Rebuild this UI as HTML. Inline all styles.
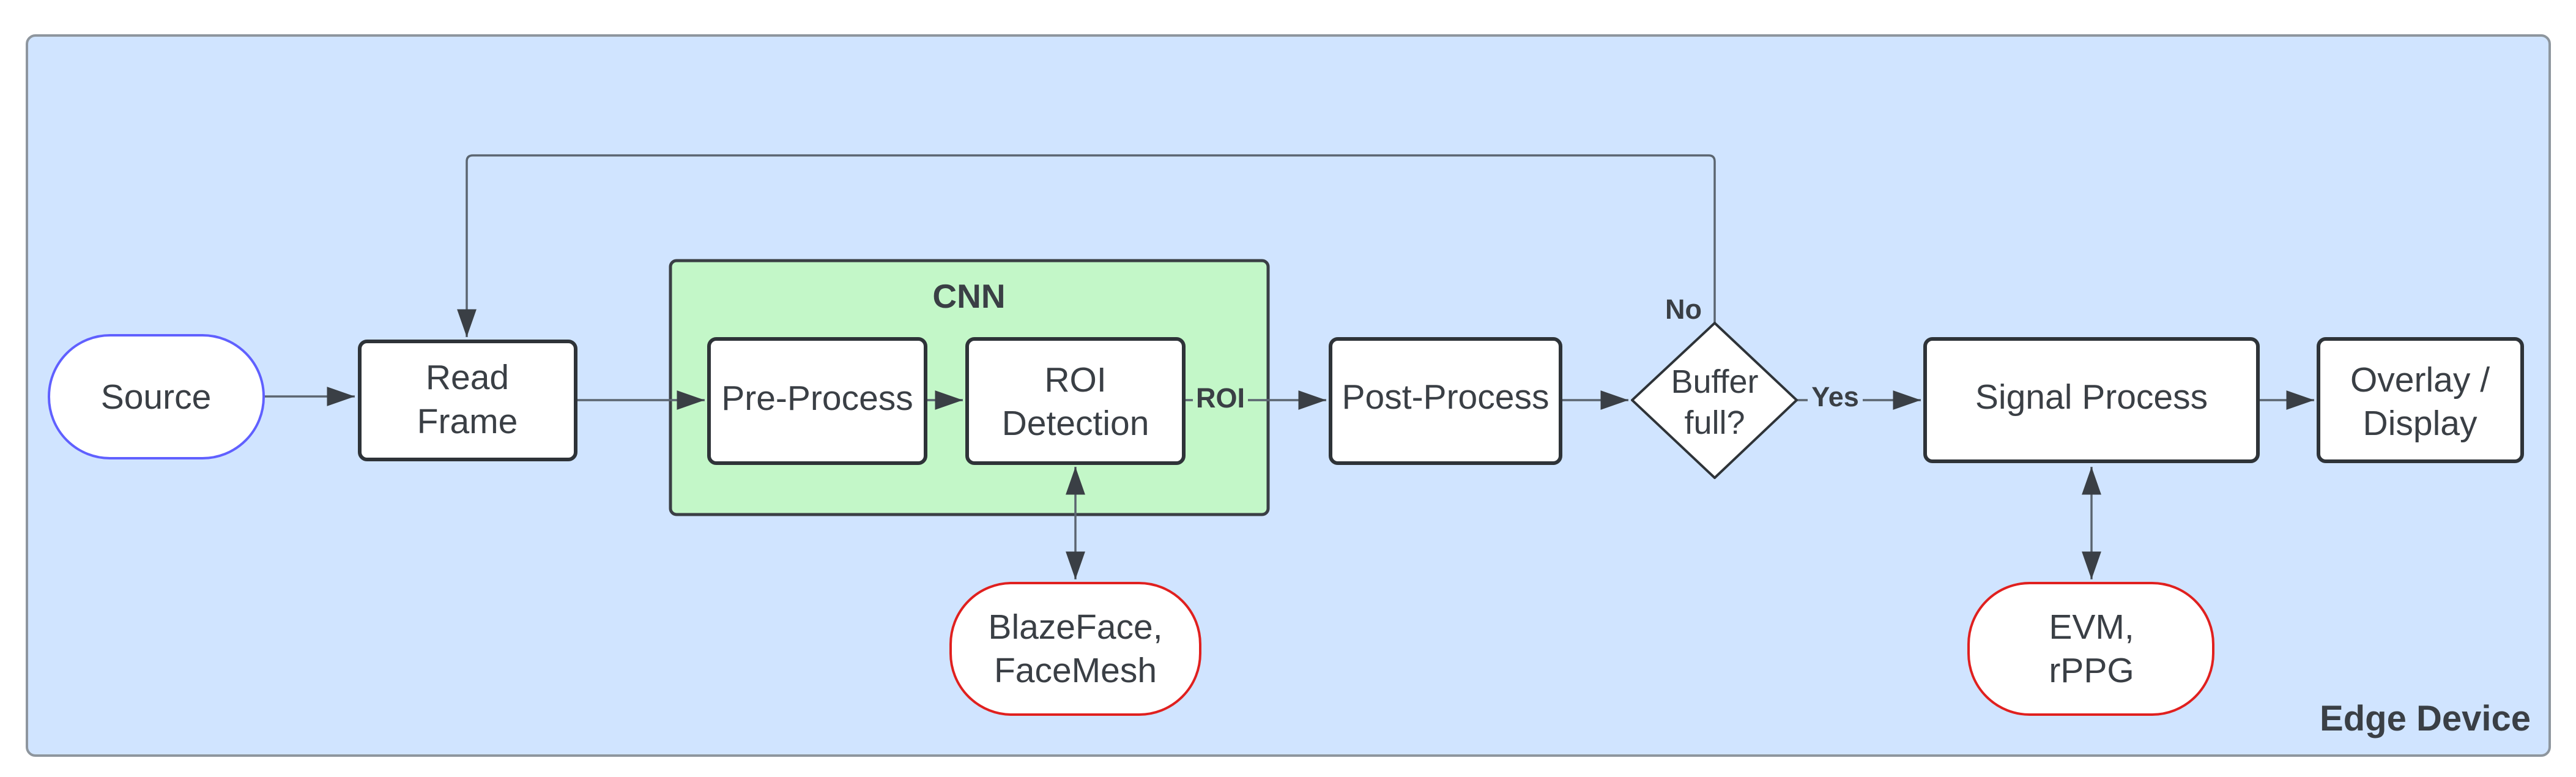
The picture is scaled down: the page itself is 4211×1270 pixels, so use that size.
<!DOCTYPE html>
<html><head><meta charset="utf-8"><style>
html,body{margin:0;padding:0;background:#fff;}
svg{display:block;}
text{font-family:"Liberation Sans",sans-serif;fill:#3a3f45;}
</style></head><body>
<svg width="4211" height="1270" viewBox="0 0 4211 1270" xmlns="http://www.w3.org/2000/svg">
<defs>
<marker id="b" viewBox="0 0 10 10" refX="10" refY="5" markerWidth="13" markerHeight="13" orient="auto-start-reverse">
<path d="M0,1.5 L10,5 L0,8.5 z" fill="#3a3f45"/></marker>
</defs>
<rect x="44" y="58" width="4124" height="1177" rx="14" fill="#d0e4ff" stroke="#8e969e" stroke-width="4"/>
<rect x="1096" y="426" width="977" height="415" rx="10" fill="#c3f7c8" stroke="#3a3f45" stroke-width="5"/>
<text x="1584" y="503" font-size="55" font-weight="bold" text-anchor="middle">CNN</text>

<g stroke="#5b6570" stroke-width="3.5" fill="none">
<line x1="431" y1="648" x2="580" y2="648" marker-end="url(#b)"/>
<line x1="941" y1="654" x2="1152" y2="654" marker-end="url(#b)"/>
<line x1="1513" y1="654" x2="1574" y2="654" marker-end="url(#b)"/>
<line x1="1935" y1="654" x2="1950" y2="654"/>
<line x1="2040" y1="654" x2="2168" y2="654" marker-end="url(#b)"/>
<line x1="2551" y1="654" x2="2662" y2="654" marker-end="url(#b)"/>
<line x1="2937" y1="654" x2="2955" y2="654"/>
<line x1="3045" y1="654" x2="3140" y2="654" marker-end="url(#b)"/>
<line x1="3691" y1="654" x2="3783" y2="654" marker-end="url(#b)"/>
<line x1="1758" y1="763" x2="1758" y2="947" marker-start="url(#b)" marker-end="url(#b)"/>
<line x1="3419" y1="763" x2="3419" y2="947" marker-start="url(#b)" marker-end="url(#b)"/>
<path d="M2803,527 L2803,264 Q2803,254 2793,254 L773,254 Q763,254 763,264 L763,551" marker-end="url(#b)"/>
</g>

<g stroke="#2e3338" stroke-width="6" fill="#fff">
<rect x="80" y="548" width="351" height="201" rx="100" stroke="#6060ff" stroke-width="4"/>
<rect x="588" y="558" width="353" height="193" rx="12"/>
<rect x="1159" y="554" width="354" height="203" rx="12"/>
<rect x="1581" y="554" width="354" height="203" rx="12"/>
<rect x="2175" y="554" width="376" height="203" rx="12"/>
<path d="M2803,528 L2937,654 L2803,781 L2668,654 Z" stroke-width="4" stroke-linejoin="round"/>
<rect x="3147" y="554" width="544" height="200" rx="12"/>
<rect x="3790" y="554" width="333" height="200" rx="12"/>
<rect x="1554" y="953" width="408" height="215" rx="100" stroke="#e0201f" stroke-width="4"/>
<rect x="3218" y="953" width="400" height="215" rx="100" stroke="#e0201f" stroke-width="4"/>
</g>

<g font-size="57" text-anchor="middle">
<text x="255" y="668">Source</text>
<text x="764" y="636">Read</text>
<text x="764" y="708">Frame</text>
<text x="1336" y="670">Pre-Process</text>
<text x="1758" y="640">ROI</text>
<text x="1758" y="711">Detection</text>
<text x="2363" y="668">Post-Process</text>
<text x="2803" y="642" font-size="54">Buffer</text>
<text x="2803" y="709" font-size="54">full?</text>
<text x="3419" y="668">Signal Process</text>
<text x="3956" y="640">Overlay /</text>
<text x="3956" y="711">Display</text>
<text x="1758" y="1044">BlazeFace,</text>
<text x="1758" y="1115">FaceMesh</text>
<text x="3419" y="1044">EVM,</text>
<text x="3419" y="1115">rPPG</text>
</g>
<g font-size="45" font-weight="bold" text-anchor="middle">
<text x="1995" y="666">ROI</text>
<text x="2752" y="521">No</text>
<text x="3000" y="664">Yes</text>
</g>
<text x="4137" y="1194" font-size="58" font-weight="bold" text-anchor="end">Edge Device</text>
</svg>
</body></html>
